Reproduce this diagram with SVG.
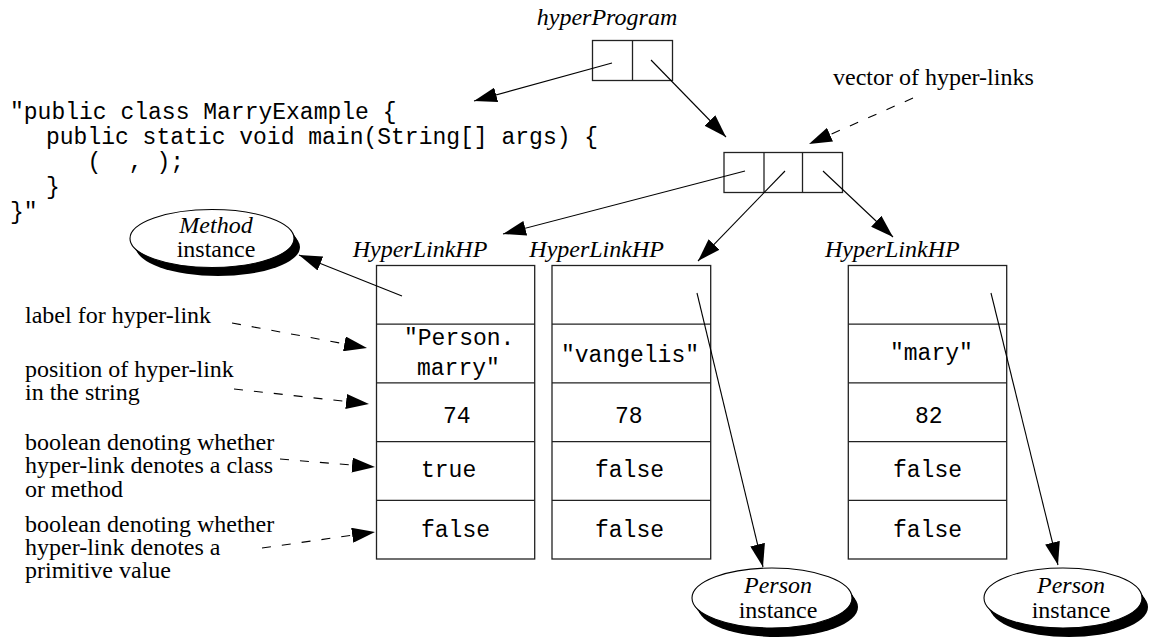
<svg xmlns="http://www.w3.org/2000/svg" width="1149" height="637" viewBox="0 0 1149 637">
<style>
.box{fill:#fff;stroke:#222;stroke-width:1.3}
.div{stroke:#222;stroke-width:1.3;fill:none}
.serif{font-family:"Liberation Serif","Times New Roman",serif;font-size:24px;fill:#000}
.ital{font-family:"Liberation Serif","Times New Roman",serif;font-size:24px;font-style:italic;fill:#000}
.mono{font-family:"Liberation Mono","Courier New",monospace;font-size:23px;fill:#000}
.con{stroke:#000;stroke-width:1.1;fill:none;marker-end:url(#ah)}
.dash{stroke-dasharray:9 11}
.shadow{fill:#000}
.ell{fill:#fff;stroke:#000;stroke-width:1.1}
</style>
<defs>
<marker id="ah" markerUnits="userSpaceOnUse" markerWidth="23" markerHeight="15" refX="23" refY="7.5" orient="auto">
<path d="M0,0 L23,7.5 L0,15 z" fill="#000"/>
</marker>
</defs>
<rect width="1149" height="637" fill="#fff"/>

<g id="hyperProgram">
<text class="ital" x="607" y="25" text-anchor="middle">hyperProgram</text>
<rect class="box" x="592.5" y="40.5" width="80" height="40"/>
<line class="div" x1="632.5" y1="40.5" x2="632.5" y2="80.5"/>
</g>

<g id="code">
<text class="mono" x="10" y="119" xml:space="preserve">"public class MarryExample {</text>
<text class="mono" x="46" y="144" xml:space="preserve">public static void main(String[] args) {</text>
<text class="mono" x="46" y="169" xml:space="preserve">   (  , );</text>
<text class="mono" x="46" y="194">}</text>
<text class="mono" x="10" y="219">}"</text>
</g>

<g id="vector">
<text class="serif" x="833" y="85">vector of hyper-links</text>
<rect class="box" x="724" y="152.5" width="118.5" height="40"/>
<line class="div" x1="764" y1="152.5" x2="764" y2="192.5"/>
<line class="div" x1="802.5" y1="152.5" x2="802.5" y2="192.5"/>
</g>

<g id="methodInstance">
<ellipse class="shadow" cx="214" cy="241" rx="82" ry="29"/>
<ellipse class="shadow" cx="216" cy="244" rx="82" ry="29"/>
<ellipse class="shadow" cx="218" cy="247" rx="82" ry="29"/>
<ellipse class="ell" cx="212" cy="238.5" rx="82" ry="29"/>
<text class="ital" x="216" y="233" text-anchor="middle">Method</text>
<text class="serif" x="216" y="257" text-anchor="middle">instance</text>
</g>

<g id="hl1">
<text class="ital" x="352.7" y="257">HyperLinkHP</text>
<rect class="box" x="376.5" y="265.5" width="158.2" height="293.5"/>
<line class="div" x1="376.5" y1="324.2" x2="534.7" y2="324.2"/>
<line class="div" x1="376.5" y1="382.9" x2="534.7" y2="382.9"/>
<line class="div" x1="376.5" y1="441.6" x2="534.7" y2="441.6"/>
<line class="div" x1="376.5" y1="500.3" x2="534.7" y2="500.3"/>
<text class="mono" x="404" y="345">"Person.</text>
<text class="mono" x="417" y="375">marry"</text>
<text class="mono" x="443" y="423">74</text>
<text class="mono" x="421" y="477">true</text>
<text class="mono" x="421" y="537">false</text>
</g>

<g id="hl2">
<text class="ital" x="529.3" y="257">HyperLinkHP</text>
<rect class="box" x="552" y="265.5" width="158.7" height="293.5"/>
<line class="div" x1="552" y1="324.2" x2="710.7" y2="324.2"/>
<line class="div" x1="552" y1="382.9" x2="710.7" y2="382.9"/>
<line class="div" x1="552" y1="441.6" x2="710.7" y2="441.6"/>
<line class="div" x1="552" y1="500.3" x2="710.7" y2="500.3"/>
<text class="mono" x="561" y="362">"vangelis"</text>
<text class="mono" x="615" y="423">78</text>
<text class="mono" x="595" y="477">false</text>
<text class="mono" x="595" y="537">false</text>
</g>

<g id="hl3">
<text class="ital" x="825" y="257">HyperLinkHP</text>
<rect class="box" x="848.3" y="265.5" width="158.4" height="293.5"/>
<line class="div" x1="848.3" y1="324.2" x2="1006.7" y2="324.2"/>
<line class="div" x1="848.3" y1="382.9" x2="1006.7" y2="382.9"/>
<line class="div" x1="848.3" y1="441.6" x2="1006.7" y2="441.6"/>
<line class="div" x1="848.3" y1="500.3" x2="1006.7" y2="500.3"/>
<text class="mono" x="890" y="360">"mary"</text>
<text class="mono" x="915" y="423">82</text>
<text class="mono" x="893" y="477">false</text>
<text class="mono" x="893" y="537">false</text>
</g>

<g id="person1">
<ellipse class="shadow" cx="774" cy="601" rx="80" ry="30"/>
<ellipse class="shadow" cx="776" cy="604" rx="80" ry="30"/>
<ellipse class="shadow" cx="778" cy="607" rx="80" ry="30"/>
<ellipse class="ell" cx="772" cy="598" rx="80" ry="30"/>
<text class="ital" x="778" y="593" text-anchor="middle">Person</text>
<text class="serif" x="778" y="618" text-anchor="middle">instance</text>
</g>

<g id="person2">
<ellipse class="shadow" cx="1065" cy="601" rx="79" ry="30"/>
<ellipse class="shadow" cx="1067" cy="604" rx="79" ry="30"/>
<ellipse class="shadow" cx="1069" cy="607" rx="79" ry="30"/>
<ellipse class="ell" cx="1063" cy="598" rx="79" ry="30"/>
<text class="ital" x="1071" y="593" text-anchor="middle">Person</text>
<text class="serif" x="1071" y="618" text-anchor="middle">instance</text>
</g>

<g id="labels">
<text class="serif" x="25" y="323">label for hyper-link</text>
<text class="serif" x="25" y="377">position of hyper-link</text>
<text class="serif" x="25" y="400">in the string</text>
<text class="serif" x="25" y="450">boolean denoting whether</text>
<text class="serif" x="25" y="473">hyper-link denotes a class</text>
<text class="serif" x="25" y="497">or method</text>
<text class="serif" x="25" y="532">boolean denoting whether</text>
<text class="serif" x="25" y="555">hyper-link denotes a</text>
<text class="serif" x="25" y="578">primitive value</text>
</g>

<g id="connectors">
<line class="con" x1="612" y1="63" x2="474" y2="101"/>
<line class="con" x1="651" y1="60" x2="726" y2="137"/>
<line class="con" x1="745" y1="171" x2="503" y2="234"/>
<line class="con" x1="785" y1="171" x2="698" y2="261"/>
<line class="con" x1="823" y1="171" x2="893" y2="237"/>
<line class="con" x1="402" y1="296" x2="299" y2="255"/>
<line class="con" x1="697" y1="293" x2="763" y2="567"/>
<line class="con" x1="991" y1="293" x2="1058" y2="565"/>
<line class="con dash" x1="913" y1="98" x2="809" y2="144"/>
<line class="con dash" x1="232" y1="323" x2="367" y2="348"/>
<line class="con dash" x1="234" y1="389" x2="369" y2="404"/>
<line class="con dash" x1="280" y1="459" x2="375" y2="467"/>
<line class="con dash" x1="262" y1="548" x2="375" y2="532"/>
</g>
</svg>
